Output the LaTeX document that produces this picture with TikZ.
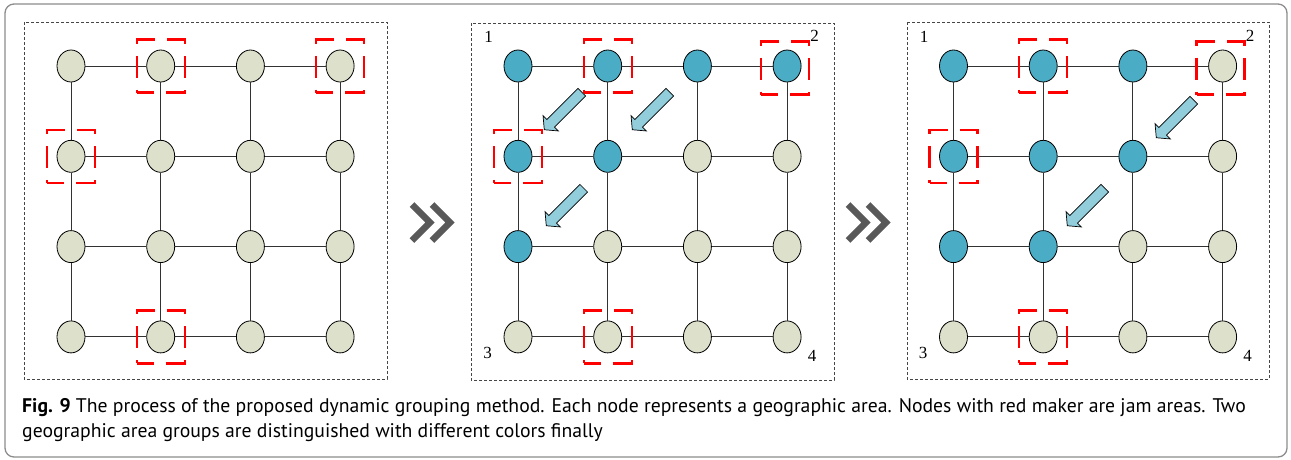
\documentclass[tikz,border=0pt]{standalone}
\usepackage{fontspec}
\setmainfont{Liberation Serif}
\newfontfamily\capfont{PT Sans}
\usepackage{tikz}
\usetikzlibrary{arrows,calc,positioning,shapes}
\definecolor{areabeige}{RGB}{221,224,203}
\definecolor{areablue}{RGB}{75,172,198}
\definecolor{arrowblue}{RGB}{146,205,220}
\definecolor{jamred}{RGB}{255,0,0}
\definecolor{linkgray}{RGB}{50,50,50}
\definecolor{panelgray}{RGB}{70,70,70}
\definecolor{chevgray}{RGB}{89,89,89}
\definecolor{framegray}{RGB}{140,140,140}
% areas that end up in the blue group
\foreach \n in {b11,b12,b13,b14,b21,b22,b31,c11,c12,c13,c21,c22,c23,c31,c32}
	{\expandafter\xdef\csname grp\n\endcsname{}}
\tikzset{%
	area/.style      = {draw, ellipse, minimum width=28pt, minimum height=32pt, inner sep=0pt, line width=0.8pt, fill=areabeige}, % Geographic area
	link/.style      = {draw=linkgray, line width=1pt}, % Road between areas
	jambox/.style    = {draw=jamred, rectangle, minimum width=48pt, minimum height=53pt, line width=2.4pt, dash pattern=on 22pt off 12pt, dash phase=5pt}, % Jam marker
	panel/.style     = {draw=panelgray, line width=0.9pt, dash pattern=on 3pt off 2pt},
	movearrow/.style = {single arrow, draw, fill=arrowblue, line width=0.7pt, inner sep=0pt, inner ysep=5pt, minimum height=53pt, single arrow head extend=5.5pt, single arrow tip angle=100, anchor=tail, rotate=225}, % Grouping step
	cornerlabel/.style = {inner sep=0pt, font=\fontsize{17}{17}\selectfont},
	chevron/.style   = {draw=chevgray, line width=6.5pt, line join=miter},
	capline/.style   = {inner sep=0pt, anchor=base west, font=\capfont\fontsize{19.7}{25}\selectfont},
}
\begin{document}
\begin{tikzpicture}[x=1pt, y=-1pt]
	\useasboundingbox (0,0) rectangle (1291,459);
	\draw[framegray, line width=1.3pt, rounded corners=9pt] (5,4) rectangle (1287,457);
	
	\draw[panel] (24,22) rectangle (387,379);
	\draw[panel] (471,23) rectangle (834,380);
	\draw[panel] (907,22) rectangle (1269,379);
	
	% grid of areas
	\foreach \p/\dx in {a/0, b/447, c/882.5} {
		\foreach \r in {1,...,4} {
			\foreach \c in {1,...,4} {
				\ifcsname grp\p\r\c\endcsname \def\areafill{areablue}\else \def\areafill{areabeige}\fi
				\node[area, fill=\areafill] (\p\r\c) at ({\dx+71+89.7*(\c-1)}, {66+90.3*(\r-1)}) {};
			}
		}
	}
	\foreach \p in {a,b,c} {
		\foreach \r in {1,...,4} {
			\foreach \c in {1,2,3} {
				\pgfmathtruncatemacro\cn{\c+1}
				\draw[link] (\p\r\c) -- (\p\r\cn);
				\draw[link] (\p\c\r) -- (\p\cn\r);
			}
		}
	}
	
	% jam areas
	\foreach \p in {a,b,c} {
		\node[jambox] (jam\p12) at (\p12) {};
		\node[jambox] (jam\p21) at (\p21) {};
		\node[jambox] (jam\p42) at (\p42) {};
	}
	\node[jambox] (jama14) at (a14) {};
	\node[jambox, xshift=-2pt, yshift=-2pt] (jamb14) at (b14) {};
	\node[jambox, xshift=-2pt, yshift=-2pt] (jamc14) at (c14) {};
	
	% grouping steps
	\node[movearrow] (mv1) at (582,92) {};
	\node[movearrow] (mv2) at (670,92) {};
	\node[movearrow] (mv3) at (584,188) {};
	\node[movearrow] (mv4) at (1194,100) {};
	\node[movearrow] (mv5) at (1105,188) {};
	
	\foreach \p/\dx in {b/447, c/882.5} {
		\node[cornerlabel] (\p-no1) at ({\dx+41.5},36.5) {1};
		\node[cornerlabel] (\p-no2) at ({\dx+367.5},35.5) {2};
		\node[cornerlabel] (\p-no3) at ({\dx+40.5},352.5) {3};
		\node[cornerlabel] (\p-no4) at ({\dx+365},356) {4};
	}
	
	\draw[chevron] (412,204.5) -- ++(18,18) -- ++(-18,18);
	\draw[chevron] (432,204.5) -- ++(18,18) -- ++(-18,18);
	\draw[chevron] (848,204.5) -- ++(18,18) -- ++(-18,18);
	\draw[chevron] (868,204.5) -- ++(18,18) -- ++(-18,18);
	
	\node[capline] (cap1) at (22,412) {\textbf{Fig. 9} The process of the proposed dynamic grouping method. Each node represents a geographic area. Nodes with red maker are jam areas. Two};
	\node[capline] (cap2) at (22,437) {geographic area groups are distinguished with different colors finally};
\end{tikzpicture}
\end{document}
